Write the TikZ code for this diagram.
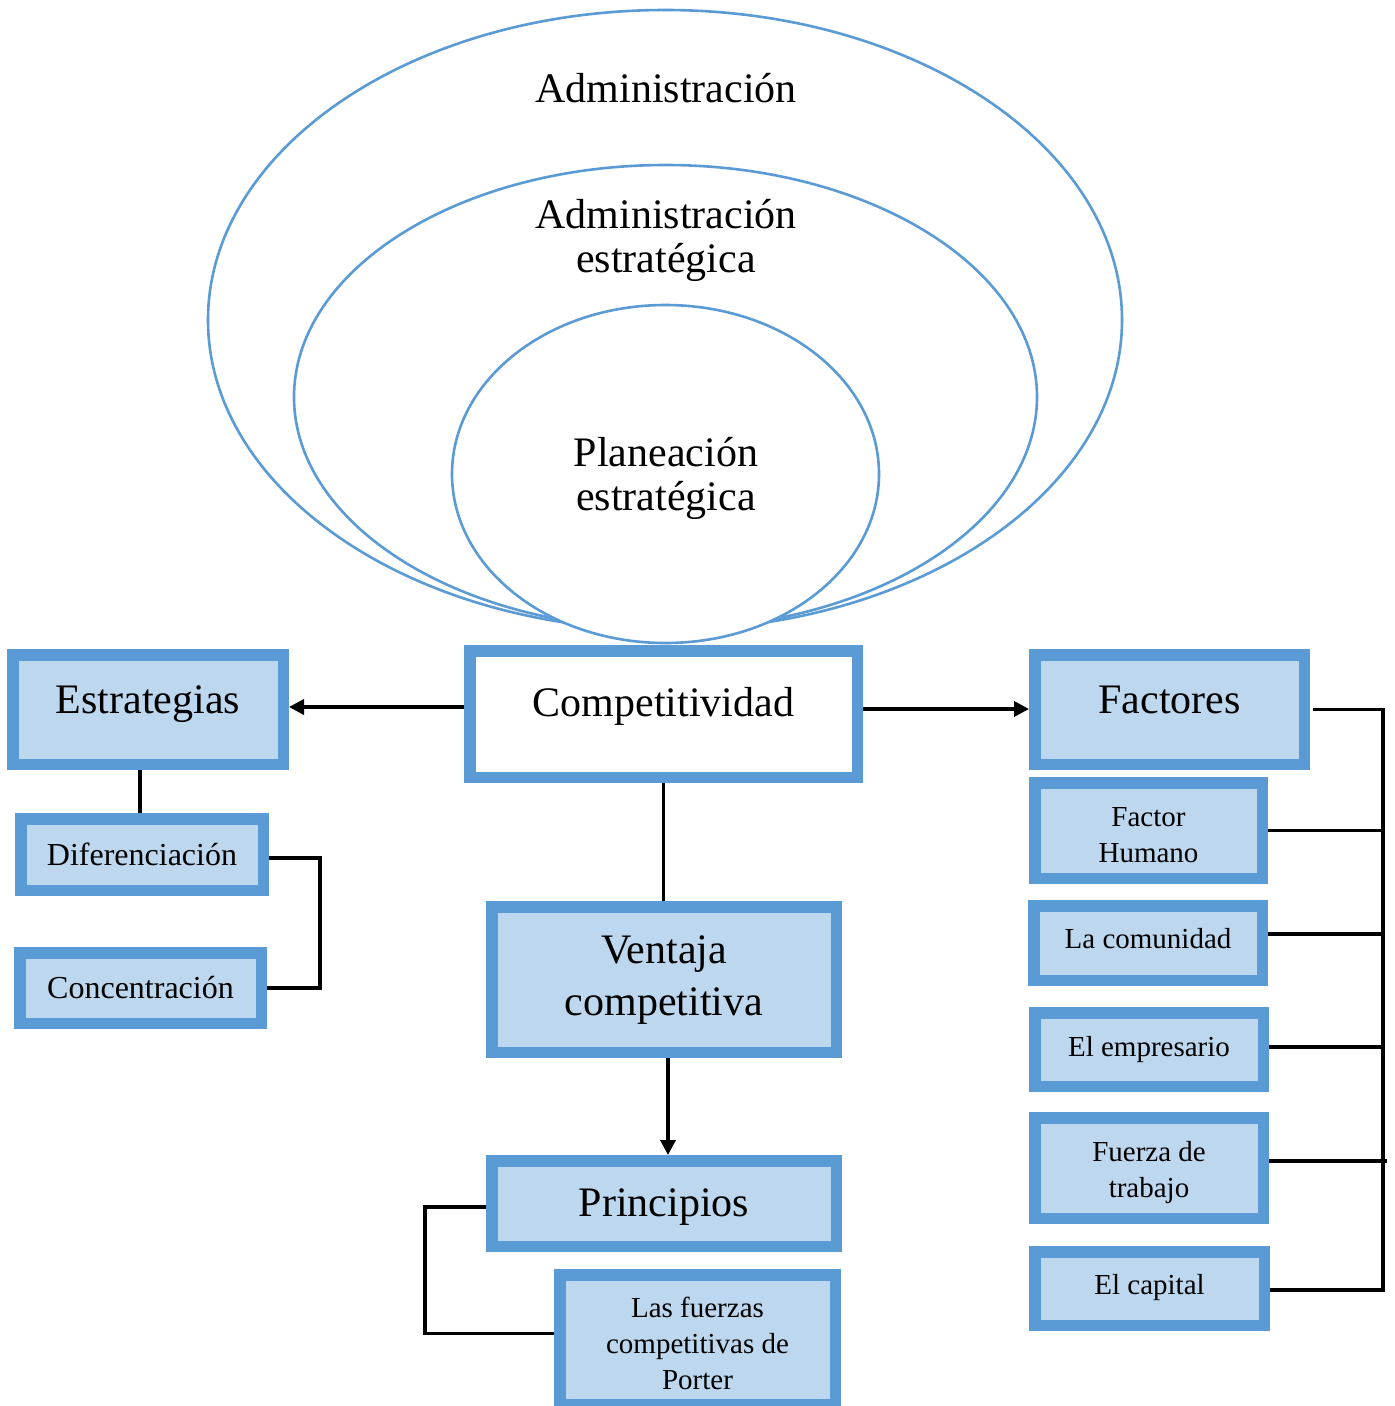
\documentclass[tikz,border=0pt]{standalone}
\usepackage{fontspec}
\setmainfont{Liberation Serif}
\usetikzlibrary{arrows.meta}
\definecolor{edgeblue}{HTML}{5B9BD5}
\definecolor{paleblue}{HTML}{BDD7EE}
\tikzset{
  ring/.style={draw=edgeblue, line width=2.6pt, fill=white},
  box/.style={rectangle, draw=edgeblue, line width=11.5pt, fill=paleblue, inner sep=0pt},
  whitebox/.style={box, fill=white},
  lbl/.style={inner sep=0pt, anchor=base, text=black},
  bigtxt/.style={lbl, font=\fontsize{42}{50}\selectfont},
  midtxt/.style={lbl, font=\fontsize{32}{38}\selectfont},
  smalltxt/.style={lbl, font=\fontsize{29}{35}\selectfont},
  conn/.style={draw=black, line width=3.5pt},
  arrowconn/.style={conn, -{Triangle[length=15pt,width=15pt]}}
}
\begin{document}
\begin{tikzpicture}[x=1pt, y=-1pt]
\useasboundingbox (0,0) rectangle (1395,1406);
\fill[white] (0,0) rectangle (1395,1406);

% nested ellipses
\draw[ring] (665,320) ellipse [x radius=457pt, y radius=310pt];
\draw[ring] (665.5,397) ellipse [x radius=371.5pt, y radius=232pt];
\draw[ring] (665.5,474) ellipse [x radius=213.5pt, y radius=169pt];

\node[bigtxt] (tadm) at (666,102) {Administración};
\node[bigtxt] (tadmest1) at (666,228) {Administración};
\node[bigtxt] (tadmest2) at (666,272) {estratégica};
\node[bigtxt] (tplan1) at (666,466) {Planeación};
\node[bigtxt] (tplan2) at (666,510) {estratégica};

% boxes
\node[box, minimum width=270.5pt, minimum height=109.5pt] (estr) at (148,709.5) {};
\node[box, minimum width=242.5pt, minimum height=71.5pt] (dif) at (142,854.5) {};
\node[box, minimum width=241.5pt, minimum height=70.5pt] (conc) at (140.5,988) {};
\node[whitebox, minimum width=387.5pt, minimum height=126.5pt] (comp) at (663.5,714) {};
\node[box, minimum width=269.5pt, minimum height=109.5pt] (fact) at (1169.5,709.5) {};
\node[box, minimum width=227.5pt, minimum height=95.5pt] (fh) at (1148.5,830.5) {};
\node[box, minimum width=228.5pt, minimum height=74.5pt] (com) at (1148,943) {};
\node[box, minimum width=228.5pt, minimum height=73.5pt] (emp) at (1149,1049.5) {};
\node[box, minimum width=228.5pt, minimum height=100.5pt] (fza) at (1149,1168) {};
\node[box, minimum width=229.5pt, minimum height=73.5pt] (cap) at (1149.5,1288.5) {};
\node[box, minimum width=344.5pt, minimum height=145.5pt] (vent) at (664,979.5) {};
\node[box, minimum width=344.5pt, minimum height=85.5pt] (prin) at (664,1203.5) {};
\node[box, minimum width=275.5pt, minimum height=129.5pt] (porter) at (697.5,1339.5) {};

% box texts
\node[bigtxt] (testr) at (148,713) {Estrategias};
\node[bigtxt] (tcomp) at (663.5,716) {Competitividad};
\node[bigtxt] (tfact) at (1169.5,713) {Factores};
\node[midtxt] (tdif) at (142,865) {Diferenciación};
\node[midtxt] (tconc) at (140.5,998) {Concentración};
\node[bigtxt] (tvent1) at (664,963) {Ventaja};
\node[bigtxt] (tvent2) at (664,1015) {competitiva};
\node[bigtxt] (tprin) at (664,1216) {Principios};
\node[smalltxt] (tport1) at (697.5,1317) {Las fuerzas};
\node[smalltxt] (tport2) at (697.5,1353) {competitivas de};
\node[smalltxt] (tport3) at (697.5,1389) {Porter};
\node[smalltxt] (tfh1) at (1148.5,826) {Factor};
\node[smalltxt] (tfh2) at (1148.5,862) {Humano};
\node[smalltxt] (tcom) at (1148,948) {La comunidad};
\node[smalltxt] (temp) at (1149,1056) {El empresario};
\node[smalltxt] (tfza1) at (1149,1161) {Fuerza de};
\node[smalltxt] (tfza2) at (1149,1197) {trabajo};
\node[smalltxt] (tcap) at (1149.5,1294) {El capital};

% connectors
\coordinate (leftout) at ([yshift=7pt]comp.west);
\draw[arrowconn] (leftout) -- (leftout -| estr.east);
\coordinate (rightout) at ([yshift=5pt]comp.east);
\draw[arrowconn] (rightout) -- (rightout -| fact.west);

\draw[conn] ([xshift=-2pt]dif.north) -- ([xshift=-2pt]dif.north |- estr.south);
\draw[conn] ([yshift=-3.5pt]dif.east) -- ++(51,0) |- (conc.east);

\draw[conn] (comp.south) -- (comp.south |- vent.north);
\draw[arrowconn] ([xshift=4pt]vent.south) -- ([xshift=4pt]vent.south |- prin.north);
\draw[conn] ([yshift=-3.5pt]prin.west) -- ++(-61,0) |- ([yshift=6pt]porter.west);

\coordinate (bus) at (1383,710);
\draw[conn] ([xshift=3pt]fact.east) -- (fact.east -| bus) |- ([yshift=-1.5pt]cap.east);
\draw[conn] (fh.east) -- (fh.east -| bus);
\draw[conn] ([yshift=9pt]com.east) -- ([yshift=9pt]com.east -| bus);
\draw[conn] ([yshift=2.5pt]emp.east) -- ([yshift=2.5pt]emp.east -| bus);
\draw[conn] ([yshift=7pt]fza.east) -- ([yshift=7pt]fza.east -| bus) -- ++(4,0);
\end{tikzpicture}
\end{document}
